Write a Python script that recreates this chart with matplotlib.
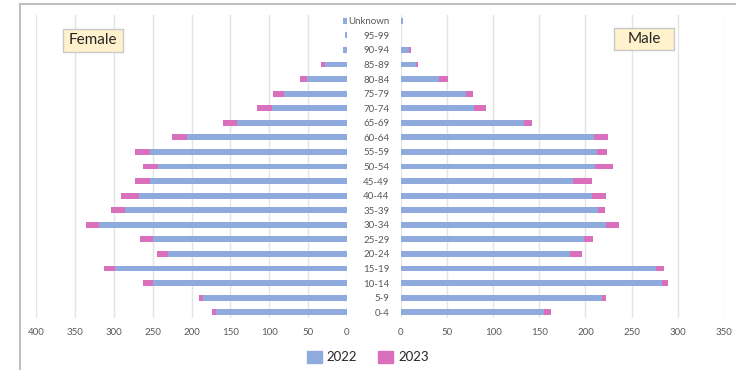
import matplotlib
matplotlib.use('Agg')
import matplotlib.pyplot as plt
from matplotlib.patches import Rectangle
from matplotlib.lines import Line2D

# 年龄组（从下到上）
age_groups = ['0-4', '5-9', '10-14', '15-19', '20-24', '25-29', '30-34', '35-39',
              '40-44', '45-49', '50-54', '55-59', '60-64', '65-69', '70-74',
              '75-79', '80-84', '85-89', '90-94', '95-99', 'Unknown']

female_2022 = [169, 185, 250, 298, 230, 250, 319, 285, 267, 254, 243, 254, 206,
               141, 96, 81, 51, 28, 5, 3, 5]
female_2023 = [5, 5, 13, 14, 14, 16, 17, 18, 24, 19, 20, 19, 19, 19, 20, 14, 9,
               5, 0, 0, 0]

male_2022 = [155, 218, 283, 276, 183, 198, 222, 214, 207, 187, 210, 212, 209,
             134, 79, 71, 42, 17, 9, 0, 3]
male_2023 = [8, 4, 6, 9, 13, 10, 14, 7, 15, 20, 20, 11, 15, 8, 13, 7, 9, 1.5, 2,
             0, 0]

female_ticks = [0, 50, 100, 150, 200, 250, 300, 350, 400]
male_ticks = [0, 50, 100, 150, 200, 250, 300, 350]

C22 = '#8FAADC'
C23 = '#DA6FBC'
GRID = '#E4E4E4'
TXT = '#595959'

plt.rcParams['font.family'] = ['Lato', 'DejaVu Sans']

W, H = 736, 370
fig = plt.figure(figsize=(W / 100, H / 100), dpi=100)


def px_axes(x0, x1, y0, y1):
    # 像素坐标（左上原点）转为 figure 坐标
    return fig.add_axes([x0 / W, 1 - y1 / H, (x1 - x0) / W, (y1 - y0) / H])


def px_label(x0, x1, y0, y1, text):
    # 带底色的标签框
    fig.add_artist(Rectangle((x0 / W, 1 - y1 / H), (x1 - x0) / W, (y1 - y0) / H,
                             transform=fig.transFigure, fc='#FFF2CC', ec='#C9C9C9', lw=1))
    fig.text((x0 + x1) / 2 / W, 1 - (y0 + y1) / 2 / H, text, ha='center', va='center',
             fontsize=11, color='#262626')


n = len(age_groups)
ypos = list(range(n))
bar_h = 0.4

# 外框
fig.add_artist(Line2D([20 / W, 20 / W], [0, 1 - 4 / H], transform=fig.transFigure,
                      color='#BFBFBF', lw=1.5))
fig.add_artist(Line2D([20 / W, 1], [1 - 4 / H, 1 - 4 / H], transform=fig.transFigure,
                      color='#BFBFBF', lw=1.5))

ax_f = px_axes(36, 347, 15, 318)
ax_m = px_axes(400.7, 724, 15, 318)

ax_f.barh(ypos, female_2022, height=bar_h, color=C22)
ax_f.barh(ypos, female_2023, left=female_2022, height=bar_h, color=C23)
ax_m.barh(ypos, male_2022, height=bar_h, color=C22)
ax_m.barh(ypos, male_2023, left=male_2022, height=bar_h, color=C23)

ax_f.set_xlim(400, 0)
ax_m.set_xlim(0, 350)
for ax, ticks in ((ax_f, female_ticks), (ax_m, male_ticks)):
    ax.set_ylim(-0.4, n - 0.6)
    ax.set_xticks(ticks)
    ax.grid(axis='x', color=GRID, lw=1)
    ax.set_axisbelow(True)
    for s in ax.spines.values():
        s.set_visible(False)
    ax.tick_params(axis='x', length=0, labelsize=7, labelcolor=TXT, pad=7)

ax_f.set_yticks([])
ax_m.set_yticks(ypos)
ax_m.set_yticklabels(age_groups)
ax_m.tick_params(axis='y', length=0, labelsize=7, labelcolor=TXT, pad=8)

px_label(63, 123, 29, 52, 'Female')
px_label(614, 674, 28, 50, 'Male')

fig.legend(handles=[Rectangle((0, 0), 1, 1, color=C22), Rectangle((0, 0), 1, 1, color=C23)],
           labels=['2022', '2023'], loc='center', bbox_to_anchor=(368 / W, 1 - 357 / H),
           ncol=2, frameon=False, fontsize=9.5, handlelength=1.1, handleheight=1.0,
           columnspacing=1.6, handletextpad=0.4, labelcolor='#262626')

fig.savefig('out.png', dpi=100)
